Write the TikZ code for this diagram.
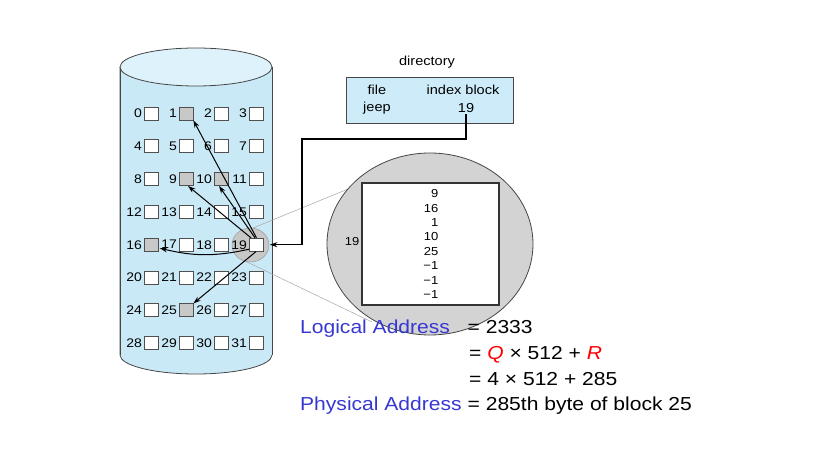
\documentclass[tikz,border=0pt]{standalone}
\usepackage{fontspec}
\setmainfont{Liberation Sans}[FakeStretch=1.12]
\usetikzlibrary{arrows.meta,calc,shapes.geometric}

\definecolor{cylbody}{RGB}{202,233,247}
\definecolor{cyltop}{RGB}{222,242,251}
\definecolor{cylline}{RGB}{70,70,70}
\definecolor{boxline}{RGB}{80,80,80}
\definecolor{usedgray}{RGB}{200,200,200}
\definecolor{lensgray}{RGB}{211,211,211}
\definecolor{dirblue}{RGB}{205,235,249}
\definecolor{addrblue}{RGB}{55,55,210}

\begin{document}
\begin{tikzpicture}[x=1pt,y=-1pt,
  blk/.style={draw=boxline, line width=0.7pt, minimum width=14pt,
    minimum height=13pt, inner sep=0pt},
  num/.style={font=\fontsize{12.5}{14}\selectfont, inner sep=0pt, anchor=east},
  ptr/.style={-{Stealth[length=7.5pt,width=5pt]}, line width=1pt},
  guide/.style={draw=gray!70, line width=0.5pt},
  small/.style={font=\fontsize{13}{15}\selectfont, inner sep=1pt, anchor=base},
  addr/.style={font=\fontsize{18.8}{22}\selectfont, inner sep=0pt, anchor=base west}]

\useasboundingbox (0,0) rectangle (823,449);

% disk drawn as a cylinder
\path[fill=cylbody, draw=cylline, line width=0.8pt]
  (120,67) -- (120,355)
  .. controls (120,365.5) and (154,374) .. (196,374)
  .. controls (238,374) and (272,365.5) .. (272,355)
  -- (272,67);
\fill[cylbody] (120,67) rectangle (272,355);
\draw[cylline, line width=0.8pt] (120,67) -- (120,355) (272,67) -- (272,355);
\path[fill=cyltop, draw=cylline, line width=0.8pt] (196,67) ellipse [x radius=76, y radius=19];

% lens marking block 19
\node[ellipse, fill=usedgray, draw=gray!80, line width=0.5pt, minimum width=37pt,
  minimum height=34pt, inner sep=0pt] (lens) at (250.5,245) {};

% disk blocks 0..31
\foreach \n in {0,...,31}{
  \pgfmathtruncatemacro{\col}{mod(\n,4)}
  \pgfmathtruncatemacro{\row}{div(\n,4)}
  \pgfmathtruncatemacro{\isused}{(\n==1)||(\n==9)||(\n==10)||(\n==16)||(\n==25)}
  \ifnum\isused=1 \def\bfill{usedgray}\else\def\bfill{white}\fi
  \node[blk, fill=\bfill] (b\n) at (151+35*\col, 113.5+32.8*\row) {};
  \node[num] (l\n) at ([xshift=-1.5pt]b\n.west) {\n};
}

% magnified index block
\coordinate (lensT) at (253,228);
\coordinate (lensB) at (247,262);
\coordinate (bigT) at (353,187);
\coordinate (bigB) at (372,322);
\draw[guide] (lensT) -- (bigT);
\draw[guide] (lensB) -- (bigB);
\node[ellipse, fill=lensgray, draw=cylline, line width=0.8pt, minimum width=206pt,
  minimum height=182pt, inner sep=0pt] (big) at (430,244) {};
\node[draw=black!80, fill=white, line width=1.1pt, minimum width=137pt,
  minimum height=122pt, inner sep=0pt] (ixblock) at (430.5,244) {};
\node[font=\fontsize{11.6}{14.4}\selectfont, align=right, inner sep=0pt, anchor=east]
  (ixlist) at (438.5,244) {9\\16\\1\\10\\25\\−1\\−1\\−1};
\node[font=\fontsize{11.6}{14}\selectfont, inner sep=0pt] (ixnum) at (352,241.5) {19};

% pointers stored in the index block
\draw[ptr] ([xshift=0.5pt]b19.north) -- (b1.south east);
\draw[ptr] ([xshift=-1pt]b19.north) -- ([xshift=-2pt]b10.south);
\draw[ptr] ([xshift=-5pt]b19.north) -- ([xshift=2pt]b9.south);
\draw[ptr] ($(b19.west)+(0.5,4.5)$) to[bend left=13] ($(b16.east)+(1.5,3.5)$);
\draw[ptr] (b19.south) -- (b25.north east);

% directory entry
\node[small] (dirlabel) at (427,66) {directory};
\node[draw=cylline, fill=dirblue, line width=0.8pt, minimum width=167pt,
  minimum height=46pt, inner sep=0pt] (dir) at (429.5,100) {};
\node[small] (dfile) at (377,95) {file};
\node[small] (djeep) at (377,111.5) {jeep};
\node[small] (dindex) at (463,95) {index block};
\node[small] (d19) at (466,112.5) {19};
\coordinate (turn) at (302,139);
\draw[ptr, line width=1.2pt] (d19.south) |- (turn) |- ([xshift=6.5pt]b19.east);

% address calculation
\node[addr, text=addrblue] (lalabel) at (300,334) {Logical Address};
\node[addr] (la1) at (467.5,334) {= 2333};
\node[addr] (la2) at (469,359.5) {= \textcolor{red}{\textit{Q}} × 512 + \textcolor{red}{\textit{R}}};
\node[addr] (la3) at (469,385) {= 4 × 512 + 285};
\node[addr, text=addrblue] (palabel) at (300,410) {Physical Address};
\node[addr] (pa) at (467.5,410) {= 285th byte of block 25};

\end{tikzpicture}
\end{document}
